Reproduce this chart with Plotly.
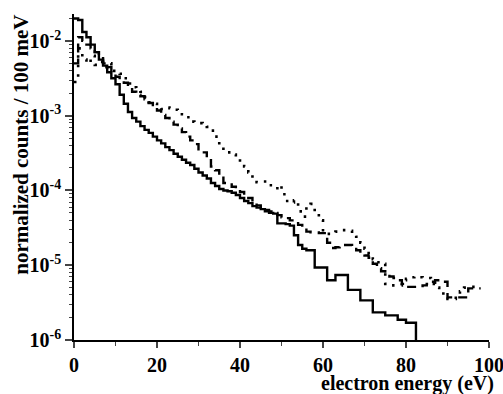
import plotly.graph_objects as go

# Electron energy (eV) bin starts and log10 of normalized counts / 100 meV
solid_energy = list(range(0, 83)) + [82.4]
solid_log10 = [
    -1.70, -1.72, -1.88, -1.95, -2.05, -2.15, -2.25, -2.33, -2.42, -2.50,
    -2.58, -2.72, -2.84, -2.95, -3.03, -3.08, -3.14, -3.19, -3.23, -3.28,
    -3.33, -3.37, -3.42, -3.46, -3.51, -3.55, -3.59, -3.63, -3.66, -3.71,
    -3.76, -3.80, -3.84, -3.90, -3.94, -3.98, -4.00, -4.01, -4.03, -4.06,
    -4.10, -4.14, -4.17, -4.21, -4.23, -4.25, -4.28, -4.30, -4.31, -4.44,
    -4.44, -4.45, -4.47, -4.60, -4.73, -4.78, -4.80, -4.80, -5.03, -5.03,
    -5.03, -5.20, -5.20, -5.13, -5.13, -5.13, -5.33, -5.33, -5.33, -5.47,
    -5.47, -5.47, -5.63, -5.63, -5.63, -5.67, -5.67, -5.67, -5.73, -5.73,
    -5.77, -5.77, -5.77, -7.00,
]

dashed_energy = list(range(0, 99))
dashed_log10 = [
    -2.30, -1.95, -2.00, -2.05, -2.10, -2.15, -2.20, -2.30, -2.35, -2.42,
    -2.48, -2.52, -2.56, -2.62, -2.68, -2.72, -2.74, -2.78, -2.83, -2.88,
    -2.93, -2.99, -3.03, -3.08, -3.12, -3.17, -3.22, -3.28, -3.33, -3.38,
    -3.45, -3.49, -3.58, -3.68, -3.73, -3.80, -3.90, -3.92, -3.95, -3.98,
    -4.02, -4.06, -4.10, -4.15, -4.20, -4.24, -4.26, -4.28, -4.30, -4.33,
    -4.36, -4.37, -4.40, -4.42, -4.46, -4.50, -4.55, -4.56, -4.56, -4.57,
    -4.57, -4.70, -4.77, -4.76, -4.74, -4.73, -4.73, -4.75, -4.80, -4.85,
    -4.87, -4.90, -4.98, -5.04, -5.08, -5.11, -5.15, -5.17, -5.20, -5.25,
    -5.29, -5.29, -5.29, -5.28, -5.27, -5.25, -5.22, -5.20, -5.20, -5.22,
    -5.43, -5.43, -5.43, -5.43, -5.43, -5.31, -5.31, -5.31, -5.31,
]

dotted_energy = list(range(0, 99))
dotted_log10 = [
    -2.55, -2.10, -2.25, -2.30, -2.20, -2.32, -2.28, -2.35, -2.30, -2.40,
    -2.42, -2.44, -2.50, -2.57, -2.62, -2.65, -2.68, -2.75, -2.82, -2.84,
    -2.87, -2.91, -2.89, -2.90, -2.92, -2.95, -2.98, -3.02, -3.08, -3.10,
    -3.10, -3.12, -3.15, -3.20, -3.28, -3.42, -3.46, -3.49, -3.52, -3.55,
    -3.60, -3.68, -3.76, -3.85, -3.89, -3.88, -3.88, -3.93, -3.97, -3.93,
    -4.05, -4.14, -4.16, -4.13, -4.28, -4.35, -4.22, -4.18, -4.28, -4.40,
    -4.55, -4.58, -4.56, -4.55, -4.53, -4.53, -4.54, -4.60, -4.62, -4.70,
    -4.78, -4.85, -4.92, -4.96, -4.98, -5.25, -5.27, -5.27, -5.27, -5.20,
    -5.18, -5.16, -5.15, -5.16, -5.17, -5.17, -5.25, -5.30, -5.35, -5.40,
    -5.45, -5.45, -5.40, -5.35, -5.30, -5.29, -5.29, -5.29, -5.29,
]

x_ticks = [0, 20, 40, 60, 80, 100]
y_decades = [1e-6, 1e-5, 1e-4, 1e-3, 1e-2]
y_labels = ["10<sup>-6</sup>", "10<sup>-5</sup>", "10<sup>-4</sup>",
            "10<sup>-3</sup>", "10<sup>-2</sup>"]

FONT = "Liberation Serif, Times New Roman, serif"
FS = 20

fig = go.Figure()
fig.add_trace(go.Scatter(
    x=dotted_energy, y=[10 ** v for v in dotted_log10], mode="lines",
    line=dict(color="black", width=2.6, dash="2.5px,7px", shape="hv"),
    showlegend=False))
fig.add_trace(go.Scatter(
    x=dashed_energy, y=[10 ** v for v in dashed_log10], mode="lines",
    line=dict(color="black", width=2.4, dash="9px,6px", shape="hv"),
    showlegend=False))
fig.add_trace(go.Scatter(
    x=solid_energy, y=[10 ** v for v in solid_log10], mode="lines",
    line=dict(color="black", width=2.4, shape="hv"),
    showlegend=False))

minor_y = [m * d for d in y_decades for m in range(2, 10)]

fig.update_layout(
    width=503, height=394,
    margin=dict(l=74, r=14, t=14, b=54),
    plot_bgcolor="white", paper_bgcolor="white",
    font=dict(family=FONT, size=FS, color="black", weight="bold"),
    xaxis=dict(
        range=[0, 100], tickvals=x_ticks, ticks="outside", ticklen=6,
        tickwidth=1.5, showline=True, linecolor="black", linewidth=2,
        showgrid=False, zeroline=False, automargin=False,
        ticklabeloverflow="allow",
        minor=dict(ticks="outside", ticklen=4, tickwidth=1.2, dtick=10,
                   tick0=0, showgrid=False),
        tickfont=dict(family=FONT, size=FS, weight="bold"),
    ),
    yaxis=dict(
        type="log", range=[-6, -1.64], tickvals=y_decades,
        ticktext=y_labels,
        ticks="outside", ticklen=7, tickwidth=1.5,
        showline=True, linecolor="black", linewidth=1.5,
        showgrid=False, zeroline=False, automargin=False,
        ticklabeloverflow="allow",
        minor=dict(ticks="outside", ticklen=3, tickwidth=1,
                   tickmode="array", tickvals=minor_y, showgrid=False),
        tickfont=dict(family=FONT, size=FS, weight="bold"),
    ),
    annotations=[
        dict(text="electron energy (eV)", xref="paper", yref="paper",
             x=1.016, y=-0.092, xanchor="right", yanchor="top",
             showarrow=False,
             font=dict(family=FONT, size=FS, weight="bold")),
        dict(text="normalized counts / 100 meV", xref="paper", yref="paper",
             x=-0.127, y=0.60, xanchor="center", yanchor="middle",
             textangle=-90, showarrow=False,
             font=dict(family=FONT, size=21, weight="bold")),
    ],
)

fig.write_html(
    "out.html",
    config={"displayModeBar": False},
    post_script="document.body.style.margin='0';"
                "document.body.style.overflow='hidden';",
)
